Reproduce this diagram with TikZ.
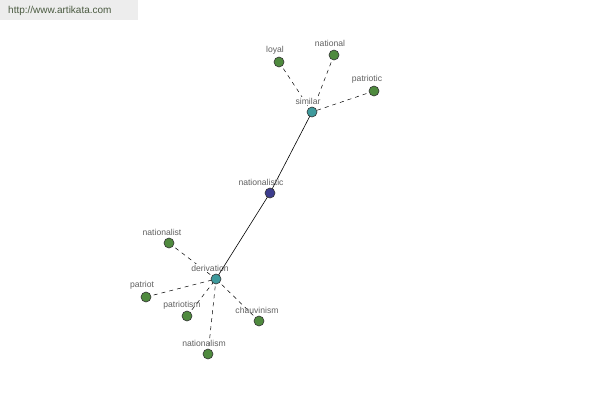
\documentclass[tikz,border=0pt]{standalone}
\usepackage{fontspec}
\setmainfont{Liberation Sans}
\begin{document}
\begin{tikzpicture}[x=1pt,y=-1pt,
  dot/.style={circle,draw=black!80,line width=0.6pt,minimum size=10pt,inner sep=0pt},
  leaf/.style={dot,fill=leafgreen},
  hub/.style={dot,fill=hubteal},
  root/.style={dot,fill=rootnavy},
  lbl/.style={font=\fontsize{8.6}{9}\selectfont,text=black!62,inner sep=0.5pt},
  hublbl/.style={lbl,fill=white},
  dashedge/.style={dash pattern=on 4pt off 4pt,line width=0.5pt},
  solidedge/.style={line width=0.6pt}]
\definecolor{leafgreen}{HTML}{4F8A3E}
\definecolor{hubteal}{HTML}{3E9A9C}
\definecolor{rootnavy}{HTML}{3D3D8E}
\definecolor{urlcol}{HTML}{4A5A40}
\useasboundingbox (0,0) rectangle (600,400);
\fill[white] (0,0) rectangle (600,400);
\fill[black!7] (0,0) rectangle (138,20);
\node[anchor=west,inner sep=0pt,font=\fontsize{10}{11}\selectfont,text=urlcol] (url) at (8,11) {http://www.artikata.com};
% node coordinates
\coordinate (nat) at (270,193);
\coordinate (sim) at (312,112);
\coordinate (der) at (216,279);
\coordinate (loyal) at (279,62);
\coordinate (national) at (334,55);
\coordinate (patriotic) at (374,91);
\coordinate (nationalist) at (169,243);
\coordinate (patriot) at (146,297);
\coordinate (patriotism) at (187,316);
\coordinate (chauvinism) at (259,321);
\coordinate (nationalism) at (208,354);
% dashed edges
\foreach \n in {loyal,national,patriotic} \draw[dashedge] (\n) -- (sim);
\foreach \n in {nationalist,patriot,patriotism,chauvinism,nationalism} \draw[dashedge] (\n) -- (der);
% hub labels
\node[hublbl] (lsim) at (308,101) {similar};
\node[hublbl] (lder) at (210,268) {derivation};
% solid edges
\draw[solidedge] (sim) -- (nat);
\draw[solidedge] (nat) -- (der);
% other labels
\node[lbl] (lnat) at (261,182) {nationalistic};
\node[lbl] (lloyal) at (275,50) {loyal};
\node[lbl] (lnational) at (330,43) {national};
\node[lbl] (lpatriotic) at (367,79) {patriotic};
\node[lbl] (lnationalist) at (162,232) {nationalist};
\node[lbl] (lpatriot) at (142,285) {patriot};
\node[lbl] (lpatriotism) at (182,305) {patriotism};
\node[lbl] (lchauvinism) at (257,310) {chauvinism};
\node[lbl] (lnationalism) at (204,343) {nationalism};
% dots
\node[root] (nnat) at (nat) {};
\node[hub] (nsim) at (sim) {};
\node[hub] (nder) at (der) {};
\foreach \n in {loyal,national,patriotic,nationalist,patriot,patriotism,chauvinism,nationalism}
  \node[leaf] (n\n) at (\n) {};
\end{tikzpicture}
\end{document}
